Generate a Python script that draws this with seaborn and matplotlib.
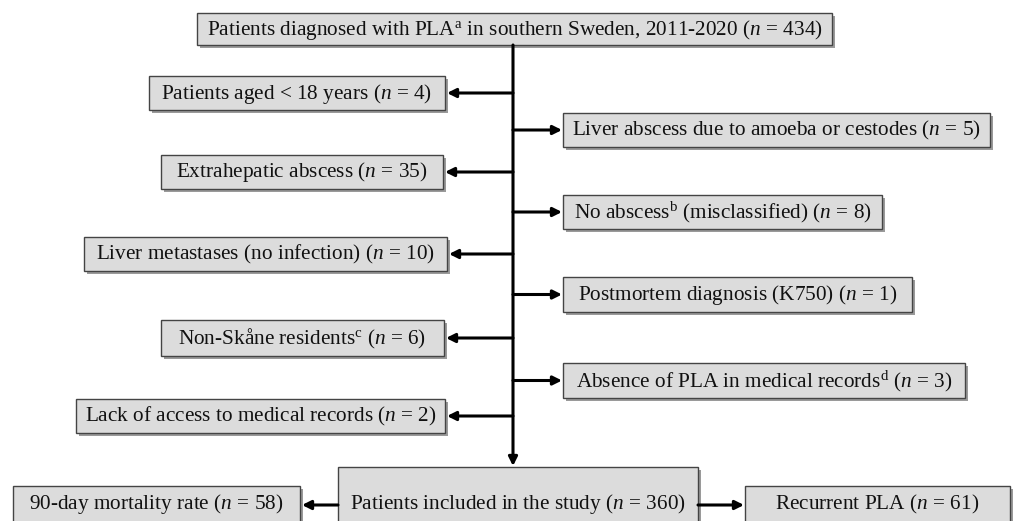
import matplotlib
matplotlib.use("Agg")
import matplotlib.pyplot as plt
import matplotlib.patches as mpatches
import seaborn as sns

# ---- data ----
top_label = r"Patients diagnosed with PLA$^{\mathrm{a}}$ in southern Sweden, 2011-2020 ($n$ = 434)"
left_labels = [
    r"Patients aged < 18 years",
    r"Extrahepatic abscess",
    r"Liver metastases (no infection)",
    r"Non-Skåne residents$^{\mathrm{c}}$",
    r"Lack of access to medical records",
]
left_counts = [4, 35, 10, 6, 2]
right_labels = [
    r"Liver abscess due to amoeba or cestodes",
    r"No abscess$^{\mathrm{b}}$ (misclassified)",
    r"Postmortem diagnosis (K750)",
    r"Absence of PLA in medical records$^{\mathrm{d}}$",
]
right_counts = [5, 8, 1, 3]
bottom_labels = ["90-day mortality rate", "Patients included in the study", "Recurrent PLA"]
bottom_counts = [58, 360, 61]

# ---- layout (pixel coords) ----
left_boxes = [(149, 76, 445, 110), (161, 155, 443, 189), (84, 237, 447, 271),
              (161, 320, 444, 356), (76, 399, 445, 433)]
right_boxes = [(563, 113, 990, 147), (563, 195, 882, 229), (563, 277, 912, 312),
               (563, 363, 965, 398)]
top_box = (197, 13, 832, 45)
bottom_boxes = [(13, 486, 300, 530), (338, 467, 698, 530), (745, 486, 1010, 530)]
spine_x = 513

sns.set_style("white")
plt.rcParams["font.family"] = ["Liberation Serif", "DejaVu Serif"]
plt.rcParams["mathtext.fontset"] = "custom"
plt.rcParams["mathtext.rm"] = "Liberation Serif"
plt.rcParams["mathtext.it"] = "Liberation Serif:italic"
plt.rcParams["mathtext.bf"] = "Liberation Serif:bold"

fig = plt.figure(figsize=(10.14, 5.21), dpi=100)
ax = fig.add_axes([0, 0, 1, 1])
ax.set_xlim(0, 1014)
ax.set_ylim(521, 0)
ax.axis("off")

FS = 15.3
FILL = "#dcdcdc"
EDGE = "#444444"
SHADOW = "#9a9a9a"


def draw_rect(b):
    x0, y0, x1, y1 = b
    ax.add_patch(mpatches.Rectangle((x0 + 3, y0 + 3), x1 - x0, y1 - y0,
                                    facecolor=SHADOW, edgecolor="none", zorder=1))
    ax.add_patch(mpatches.Rectangle((x0, y0), x1 - x0, y1 - y0, facecolor=FILL,
                                    edgecolor=EDGE, lw=1.0, zorder=2))


def box(b, label, yc=None):
    x0, y0, x1, y1 = b
    draw_rect(b)
    if yc is None:
        yc = (y0 + y1) / 2
    ax.text((x0 + x1) / 2, yc + 0.5, label, ha="center", va="center",
            fontsize=FS, color="#111111", zorder=3)


def arrow(x_from, x_to, y):
    ax.annotate("", xy=(x_to, y), xytext=(x_from, y),
                arrowprops=dict(arrowstyle="-|>", color="black", lw=2.2,
                                mutation_scale=13, shrinkA=0, shrinkB=0), zorder=4)


box(top_box, top_label)

# main vertical spine
ax.annotate("", xy=(spine_x, bottom_boxes[1][1] - 1), xytext=(spine_x, top_box[3]),
            arrowprops=dict(arrowstyle="-|>", color="black", lw=2.2,
                            mutation_scale=13, shrinkA=0, shrinkB=0), zorder=4)

for b, lab, n in zip(left_boxes, left_labels, left_counts):
    box(b, lab + f" ($n$ = {n})")
    arrow(spine_x, b[2] + 2, (b[1] + b[3]) / 2)

for b, lab, n in zip(right_boxes, right_labels, right_counts):
    box(b, lab + f" ($n$ = {n})")
    arrow(spine_x, b[0] - 1, (b[1] + b[3]) / 2)

for b, lab, n in zip(bottom_boxes, bottom_labels, bottom_counts):
    box(b, lab + f" ($n$ = {n})", yc=504)

arrow(bottom_boxes[1][0], bottom_boxes[0][2] + 2, 505)
arrow(bottom_boxes[1][2], bottom_boxes[2][0] - 1, 505)

fig.savefig("out.png", dpi=100, facecolor="white")
